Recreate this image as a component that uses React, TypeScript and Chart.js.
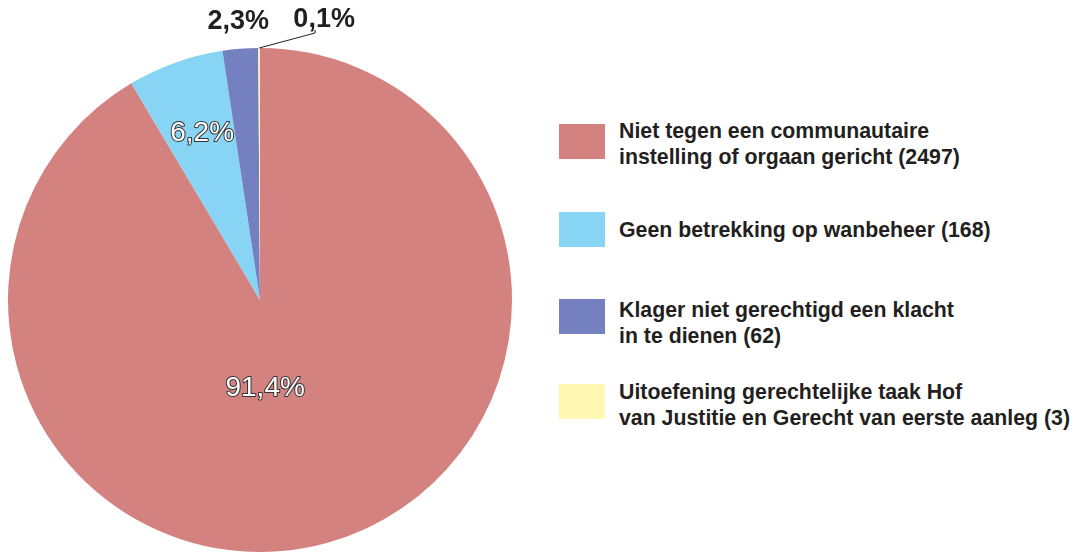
import React, { useEffect, useRef } from "react";
import { Chart, registerables } from "chart.js";

Chart.register(...registerables);

const categories: string[][] = [
  ["Niet tegen een communautaire", "instelling of orgaan gericht (2497)"],
  ["Geen betrekking op wanbeheer (168)"],
  ["Klager niet gerechtigd een klacht", "in te dienen (62)"],
  ["Uitoefening gerechtelijke taak Hof", "van Justitie en Gerecht van eerste aanleg (3)"],
];
const counts: number[] = [2497, 168, 62, 3];
const percentLabels: string[] = ["91,4%", "6,2%", "2,3%", "0,1%"];
const colors: string[] = ["#D4827F", "#87D4F5", "#7480BF", "#FFF7B2"];

const legendTops = [117.5, 216.5, 296.5, 378.5];
const swatchTops = [124, 212, 299, 384];

const labelPlugin = {
  id: "pctLabels",
  afterDatasetsDraw(chart: any) {
    const ctx = chart.ctx;
    const meta = chart.getDatasetMeta(0);
    meta.data.forEach((arc: any, i: number) => {
      const p = arc.getProps(["x", "y", "startAngle", "endAngle", "outerRadius"], true);
      const mid = (p.startAngle + p.endAngle) / 2;
      ctx.save();
      ctx.textAlign = "center";
      ctx.textBaseline = "middle";
      if (i === 0 || i === 1) {
        const shift = i === 0 ? (12 * Math.PI) / 180 : (0.5 * Math.PI) / 180;
        const frac = i === 0 ? 0.35 : 0.7;
        const a = mid + shift;
        const x = p.x + Math.cos(a) * p.outerRadius * frac;
        const y = p.y + Math.sin(a) * p.outerRadius * frac;
        ctx.font = "28px 'Liberation Sans', Arial, sans-serif";
        ctx.lineWidth = 2;
        ctx.strokeStyle = "#333333";
        ctx.lineJoin = "round";
        ctx.strokeText(percentLabels[i], x, y);
        ctx.fillStyle = "#ffffff";
        ctx.fillText(percentLabels[i], x, y);
      } else if (i === 2) {
        const r = p.outerRadius * 1.107;
        const x = p.x + Math.cos(mid) * r;
        const y = p.y + Math.sin(mid) * r;
        ctx.font = "bold 27px 'Liberation Sans', Arial, sans-serif";
        ctx.fillStyle = "#231F20";
        ctx.fillText(percentLabels[i], x, y);
      } else {
        const ex = p.x + Math.cos(mid) * p.outerRadius;
        const ey = p.y + Math.sin(mid) * p.outerRadius;
        ctx.strokeStyle = "#231F20";
        ctx.lineWidth = 1;
        ctx.beginPath();
        ctx.moveTo(ex, ey);
        ctx.lineTo(ex + 56, ey - 15);
        ctx.lineTo(ex + 56, ey - 18);
        ctx.stroke();
        ctx.font = "bold 27px 'Liberation Sans', Arial, sans-serif";
        ctx.fillStyle = "#231F20";
        ctx.fillText(percentLabels[i], ex + 65, ey - 28);
      }
      ctx.restore();
    });
  },
};

export default function App() {
  const ref = useRef<HTMLCanvasElement>(null);
  useEffect(() => {
    if (!ref.current) return;
    const chart = new Chart(ref.current, {
      type: "pie",
      data: {
        labels: categories.map((c) => c.join(" ")),
        datasets: [
          {
            data: counts,
            backgroundColor: colors,
            borderWidth: 0,
          },
        ],
      },
      options: {
        responsive: false,
        animation: false,
        layout: { padding: { left: 8, right: 8, top: 48, bottom: 2 } },
        plugins: {
          legend: { display: false },
          tooltip: { enabled: false },
        },
      },
      plugins: [labelPlugin],
    });
    return () => chart.destroy();
  }, []);

  return (
    <div
      style={{
        position: "fixed",
        left: 0,
        top: 0,
        width: 1078,
        height: 554,
        overflow: "hidden",
        background: "#ffffff",
      }}
    >
      <canvas
        ref={ref}
        width={520}
        height={554}
        style={{ position: "absolute", left: 0, top: 0, width: 520, height: 554 }}
      />
      {categories.map((lines, i) => (
        <React.Fragment key={i}>
          <div
            style={{
              position: "absolute",
              left: 559,
              top: swatchTops[i],
              width: 46,
              height: 35,
              background: colors[i],
            }}
          />
          <div
            style={{
              position: "absolute",
              left: 619,
              top: legendTops[i],
              font: "bold 21.3px 'Liberation Sans', Arial, sans-serif",
              lineHeight: "26px",
              color: "#231F20",
              whiteSpace: "nowrap",
            }}
          >
            {lines.map((l, j) => (
              <div key={j}>{l}</div>
            ))}
          </div>
        </React.Fragment>
      ))}
    </div>
  );
}
